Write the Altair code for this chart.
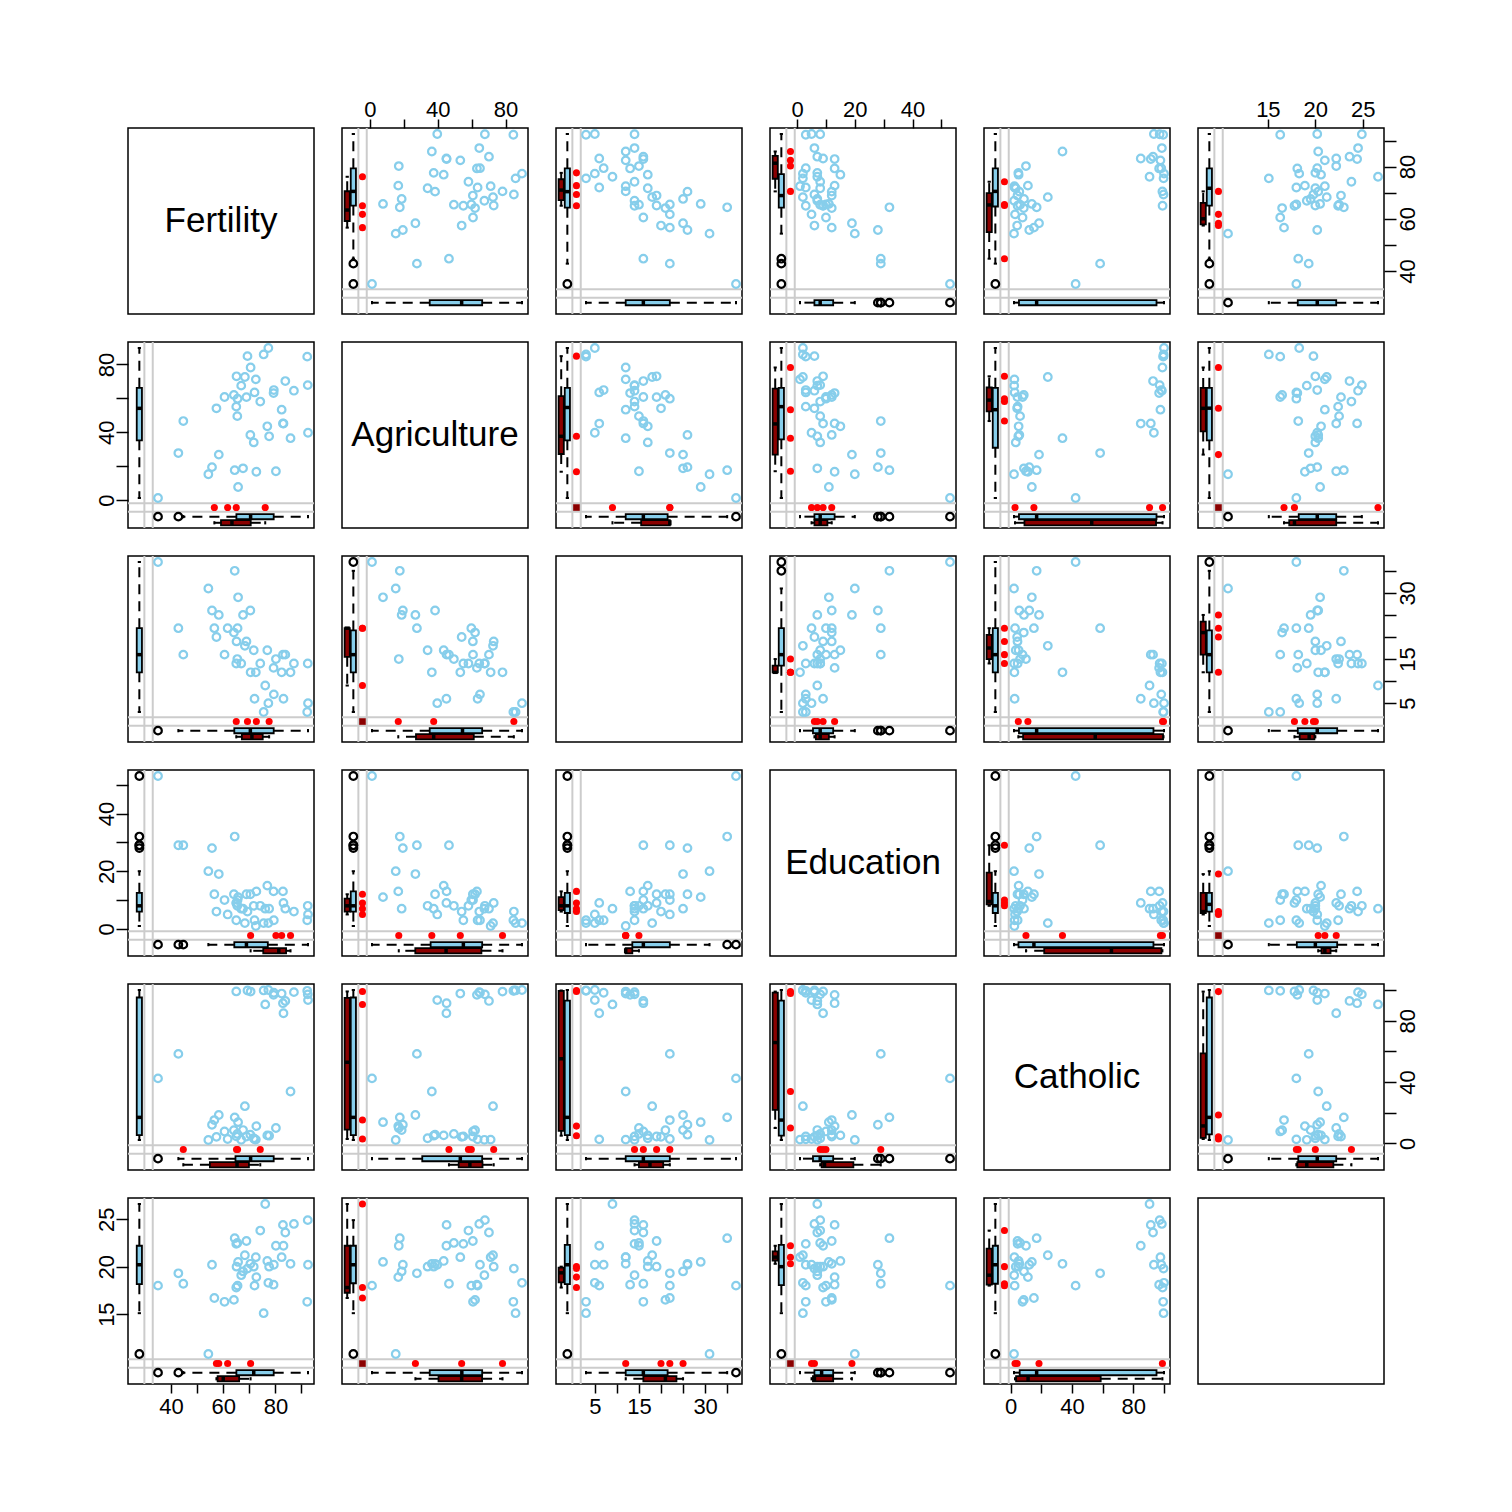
import math
import numpy as np
import pandas as pd
import altair as alt

# ---------------- data (swiss, with missing values as None) ----------------
provinces = ["Courtelary", "Delemont", "Franches-Mnt", "Moutier", "Neuveville", "Porrentruy",
             "Broye", "Glane", "Gruyere", "Sarine", "Veveyse", "Aigle", "Aubonne", "Avenches",
             "Cossonay", "Echallens", "Grandson", "Lausanne", "La Vallee", "Lavaux", "Morges",
             "Moudon", "Nyone", "Orbe", "Oron", "Payerne", "Paysd'enhaut", "Rolle", "Vevey",
             "Yverdon", "Conthey", "Entremont", "Herens", "Martigwy", "Monthey", "St Maurice",
             "Sierre", "Sion", "Boudry", "La Chauxdfnd", "Le Locle", "Neuchatel", "Val de Ruz",
             "ValdeTravers", "V. De Geneve", "Rive Droite", "Rive Gauche"]

fertility = [80.2, 83.1, 92.5, 85.8, 76.9, 76.1, 83.8, 92.4, 82.4, 82.9, 87.1, 64.1, 66.9, 68.9,
             61.7, 68.3, 71.7, 55.7, 54.3, 65.1, 65.5, 65.0, 56.6, 57.4, 72.5, 74.2, 72.0, 60.5,
             58.3, 65.4, 75.5, 69.3, 77.3, 70.5, 79.4, 65.0, 92.2, 79.3, 70.4, 65.7, 72.7, 64.4,
             77.6, 67.6, 35.0, 44.7, 42.8]

agriculture = [17.0, 45.1, 39.7, 36.5, 43.5, None, 70.2, 67.8, 53.3, 45.2, 64.5, 62.0, 67.5, 60.7,
               None, 72.6, 34.0, 19.4, 15.2, 73.0, 59.8, 55.1, None, 54.1, 71.2, 58.1, 63.5, 60.8,
               26.8, 49.5, 85.9, 84.9, 89.7, 78.2, 64.9, None, 84.6, 63.1, 38.4, 7.7, 16.7, 17.6,
               37.6, 18.7, 1.2, 46.6, 27.7]

examination = [15, 6, 5, 12, 17, 9, 16, 14, 12, 16, 14, 21, 14, 19,
               22, 18, 17, 26, 31, 19, 22, 14, 22, 20, 12, 14, 6, 16,
               25, 15, 3, None, 5, 12, 7, None, 3, 13, 26, 29, None, 35,
               None, 25, 37, 16, 22]

education = [None, 9, 5, None, 15, 7, 7, 8, None, 13, 6, 12, 7, 12,
             5, 2, 8, 28, 20, 9, 10, 3, 12, 6, 1, 8, 3, 10,
             19, 8, 2, 6, 2, None, 3, 9, 3, 13, 12, 11, 13, 32,
             7, 7, 53, 29, 29]

catholic = [9.96, 84.84, 93.40, 33.77, 5.16, 90.57, 92.85, 97.16, 97.67, 91.38, 98.61, 8.52, 2.27, 4.43,
            2.82, 24.20, 3.30, 12.11, 2.15, None, None, 4.52, 15.14, 4.20, 2.40, None, 2.56, 7.72,
            18.46, 6.10, 99.71, 99.68, 100.00, 98.96, 98.22, 99.06, 99.46, 96.83, 5.62, 13.79, 11.22, 16.92,
            4.97, 8.65, 42.34, None, 58.33]

infant_mortality = [22.2, 22.2, 20.2, 20.3, 20.6, 26.6, 23.6, 24.9, 21.0, 24.4, 24.5, 16.5, 19.1, 22.7,
                    None, 21.2, 20.0, 20.2, 10.8, 20.0, 18.0, 22.4, 16.7, None, 21.0, 23.8, 18.0, 16.3,
                    None, 22.5, 15.1, 19.8, 18.3, None, 20.2, 17.8, 16.3, 18.1, 20.3, 20.5, 18.9, 23.0,
                    20.0, 19.5, 18.0, 18.2, 19.3]

var_names = ["Fertility", "Agriculture", "Examination", "Education", "Catholic", "Infant.Mortality"]
diag_labels = ["Fertility", "Agriculture", "", "Education", "Catholic", ""]

fertility_ticks = [40, 50, 60, 70, 80, 90]
fertility_tick_labels = [40, 60, 80]
agriculture_ticks = [0, 20, 40, 60, 80]
agriculture_tick_labels = [0, 40, 80]
examination_ticks = [5, 10, 15, 20, 25, 30, 35]
examination_tick_labels = [5, 15, 30]
education_ticks = [0, 10, 20, 30, 40, 50]
education_tick_labels = [0, 20, 40]
catholic_ticks = [0, 20, 40, 60, 80, 100]
catholic_tick_labels = [0, 40, 80]
infant_mortality_ticks = [15, 20, 25]
infant_mortality_tick_labels = [15, 20, 25]

# ---------------- styling ----------------
OBS = "#87CEEB"     # skyblue
MISS = "#FF0000"    # red
BOTH = "#8B0000"    # red4
LINE = "#CCCCCC"
FONT = "Liberation Sans"
P = 186             # panel size in px
GAP = 28

F_BOX_RED, F_BOX_BLUE, F_LINE1, F_DOTS, F_LINE2 = 0.028, 0.061, 0.088, 0.110, 0.133
BOX_HW_PX, STAPLE_HW_PX = 2.6, 1.6

columns = [fertility, agriculture, examination, education, catholic, infant_mortality]
tick_sets = [fertility_ticks, agriculture_ticks, examination_ticks, education_ticks,
             catholic_ticks, infant_mortality_ticks]
label_sets = [fertility_tick_labels, agriculture_tick_labels, examination_tick_labels,
              education_tick_labels, catholic_tick_labels, infant_mortality_tick_labels]

vals = [np.array([np.nan if v is None else v for v in c], dtype=float) for c in columns]


def domain(k):
    v = vals[k][~np.isnan(vals[k])]
    mn, mx = v.min(), v.max()
    r = mx - mn
    return mn - 0.2 * r, mx + 0.04 * r


doms = [domain(k) for k in range(6)]


def pos(k, frac):
    lo, hi = doms[k]
    return lo + frac * (hi - lo)


def px(k, npx):
    lo, hi = doms[k]
    return npx / P * (hi - lo)


def fivenum(a):
    a = np.sort(a)
    n = len(a)
    n4 = math.floor((n + 3) / 2) / 2
    d = [1, n4, (n + 1) / 2, n + 1 - n4, n]
    return [0.5 * (a[math.floor(q) - 1] + a[math.ceil(q) - 1]) for q in d]


def boxstats(a):
    f = fivenum(a)
    iqr = f[3] - f[1]
    lo_f, hi_f = f[1] - 1.5 * iqr, f[3] + 1.5 * iqr
    inside = a[(a >= lo_f) & (a <= hi_f)]
    out = a[(a < lo_f) | (a > hi_f)]
    return dict(q1=f[1], med=f[2], q3=f[3], wlo=inside.min(), whi=inside.max(), out=out)


def add_box(acc, a, center, hw, shw, orient, fill):
    if len(a) == 0:
        return
    s = boxstats(a)

    def seg(lst, a1, a2, c1, c2, **extra):
        if orient == "v":
            d = dict(x=c1, x2=c2, y=a1, y2=a2)
        else:
            d = dict(x=a1, x2=a2, y=c1, y2=c2)
        d.update(extra)
        lst.append(d)

    seg(acc["dash"], s["q1"], s["wlo"], center, center)
    seg(acc["dash"], s["q3"], s["whi"], center, center)
    seg(acc["solid"], s["wlo"], s["wlo"], center - shw, center + shw)
    seg(acc["solid"], s["whi"], s["whi"], center - shw, center + shw)
    seg(acc["rect"], s["q1"], s["q3"], center - hw, center + hw, fill=fill)
    seg(acc["median"], s["med"], s["med"], center - hw, center + hw)
    for o in s["out"]:
        if orient == "v":
            acc["out"].append(dict(x=center, y=o))
        else:
            acc["out"].append(dict(x=o, y=center))


def make_axis(orient, k):
    lbl = "[" + ", ".join(str(v) for v in label_sets[k]) + "]"
    common = dict(values=tick_sets[k], grid=False, domain=False, ticks=True, tickColor="black",
                  tickWidth=1.5, labelFont=FONT, labelFontSize=22, labelColor="black",
                  labelFlush=False, labelOverlap=False,
                  labelExpr=f"indexof({lbl}, datum.value) >= 0 ? datum.label : ''")
    if orient == "top":
        return alt.Axis(orient="top", tickSize=9, labelPadding=3, labelBaseline="alphabetic", **common)
    if orient == "bottom":
        return alt.Axis(orient="bottom", tickSize=9, labelPadding=3, labelBaseline="top", **common)
    if orient == "left":
        return alt.Axis(orient="left", tickSize=12, labelPadding=3, labelAngle=270,
                        labelAlign="center", labelBaseline="alphabetic", **common)
    return alt.Axis(orient="right", tickSize=12, labelPadding=1, labelAngle=270,
                    labelAlign="center", labelBaseline="top", **common)


def diag_panel(i):
    return alt.Chart(pd.DataFrame({"t": [diag_labels[i]]})).mark_text(
        font=FONT, fontSize=35, color="black", baseline="middle", align="center"
    ).encode(text="t:N", x=alt.value(P / 2), y=alt.value(P / 2)).properties(width=P, height=P)


def panel(i, j):
    xv, yv = vals[j], vals[i]
    xlo, xhi = doms[j]
    ylo, yhi = doms[i]
    xaxis = None
    if i == 0 and j % 2 == 1:
        xaxis = make_axis("top", j)
    elif i == 5 and j % 2 == 0:
        xaxis = make_axis("bottom", j)
    yaxis = None
    if j == 0 and i % 2 == 1:
        yaxis = make_axis("left", i)
    elif j == 5 and i % 2 == 0:
        yaxis = make_axis("right", i)
    xs = alt.Scale(domain=[xlo, xhi], nice=False, zero=False)
    ys = alt.Scale(domain=[ylo, yhi], nice=False, zero=False)

    def X(f):
        return alt.X(f"{f}:Q", scale=xs, axis=xaxis, title=None)

    def Y(f):
        return alt.Y(f"{f}:Q", scale=ys, axis=yaxis, title=None)

    xo, yo = ~np.isnan(xv), ~np.isnan(yv)
    both_obs = xo & yo
    x_miss = ~xo & yo
    y_miss = xo & ~yo
    both_miss = ~xo & ~yo

    layers = []
    vlines = pd.DataFrame({"x": [pos(j, F_LINE1), pos(j, F_LINE2)]})
    hlines = pd.DataFrame({"y": [pos(i, F_LINE1), pos(i, F_LINE2)]})
    layers.append(alt.Chart(vlines).mark_rule(color=LINE, strokeWidth=2).encode(x=X("x")))
    layers.append(alt.Chart(hlines).mark_rule(color=LINE, strokeWidth=2).encode(y=Y("y")))

    pts = pd.DataFrame({"x": xv[both_obs], "y": yv[both_obs]})
    layers.append(alt.Chart(pts).mark_point(shape="circle", filled=False, color=OBS, size=58,
                                             strokeWidth=2.2, opacity=1).encode(x=X("x"), y=Y("y")))

    red = []
    for v in yv[x_miss]:
        red.append(dict(x=pos(j, F_DOTS), y=v))
    for v in xv[y_miss]:
        red.append(dict(x=v, y=pos(i, F_DOTS)))
    if red:
        layers.append(alt.Chart(pd.DataFrame(red)).mark_circle(color=MISS, size=50, opacity=1)
                      .encode(x=X("x"), y=Y("y")))
    if both_miss.any():
        layers.append(alt.Chart(pd.DataFrame({"x": [pos(j, F_DOTS)], "y": [pos(i, F_DOTS)]}))
                      .mark_square(color=BOTH, size=44, opacity=1).encode(x=X("x"), y=Y("y")))

    acc = {"dash": [], "solid": [], "rect": [], "median": [], "out": []}
    add_box(acc, yv[both_obs], pos(j, F_BOX_BLUE), px(j, BOX_HW_PX), px(j, STAPLE_HW_PX), "v", OBS)
    add_box(acc, yv[x_miss], pos(j, F_BOX_RED), px(j, BOX_HW_PX), px(j, STAPLE_HW_PX), "v", BOTH)
    add_box(acc, xv[both_obs], pos(i, F_BOX_BLUE), px(i, BOX_HW_PX), px(i, STAPLE_HW_PX), "h", OBS)
    add_box(acc, xv[y_miss], pos(i, F_BOX_RED), px(i, BOX_HW_PX), px(i, STAPLE_HW_PX), "h", BOTH)

    if acc["dash"]:
        layers.append(alt.Chart(pd.DataFrame(acc["dash"])).mark_rule(
            color="black", strokeWidth=2, strokeDash=[10, 7]).encode(
            x=X("x"), x2="x2:Q", y=Y("y"), y2="y2:Q"))
        layers.append(alt.Chart(pd.DataFrame(acc["solid"])).mark_rule(
            color="black", strokeWidth=2).encode(x=X("x"), x2="x2:Q", y=Y("y"), y2="y2:Q"))
        layers.append(alt.Chart(pd.DataFrame(acc["rect"])).mark_rect(
            stroke="black", strokeWidth=1.8, opacity=1).encode(
            x=X("x"), x2="x2:Q", y=Y("y"), y2="y2:Q", color=alt.Color("fill:N", scale=None)))
        layers.append(alt.Chart(pd.DataFrame(acc["median"])).mark_rule(
            color="black", strokeWidth=3.5).encode(x=X("x"), x2="x2:Q", y=Y("y"), y2="y2:Q"))
    if acc["out"]:
        layers.append(alt.Chart(pd.DataFrame(acc["out"])).mark_point(
            shape="circle", filled=False, color="black", size=58, strokeWidth=2.2, opacity=1)
            .encode(x=X("x"), y=Y("y")))

    return alt.layer(*layers).properties(width=P, height=P)


panels = []
for i in range(6):
    for j in range(6):
        panels.append(diag_panel(i) if i == j else panel(i, j))

chart = alt.concat(*panels, columns=6, spacing=GAP, bounds="flush", align="all").properties(
    padding={"left": 94, "top": 97, "right": 10, "bottom": 10},
    background="white",
).configure_view(stroke="black", strokeWidth=1.5).configure_concat(spacing=GAP)

chart.save("out.html", embed_options={"renderer": "svg", "actions": False})
